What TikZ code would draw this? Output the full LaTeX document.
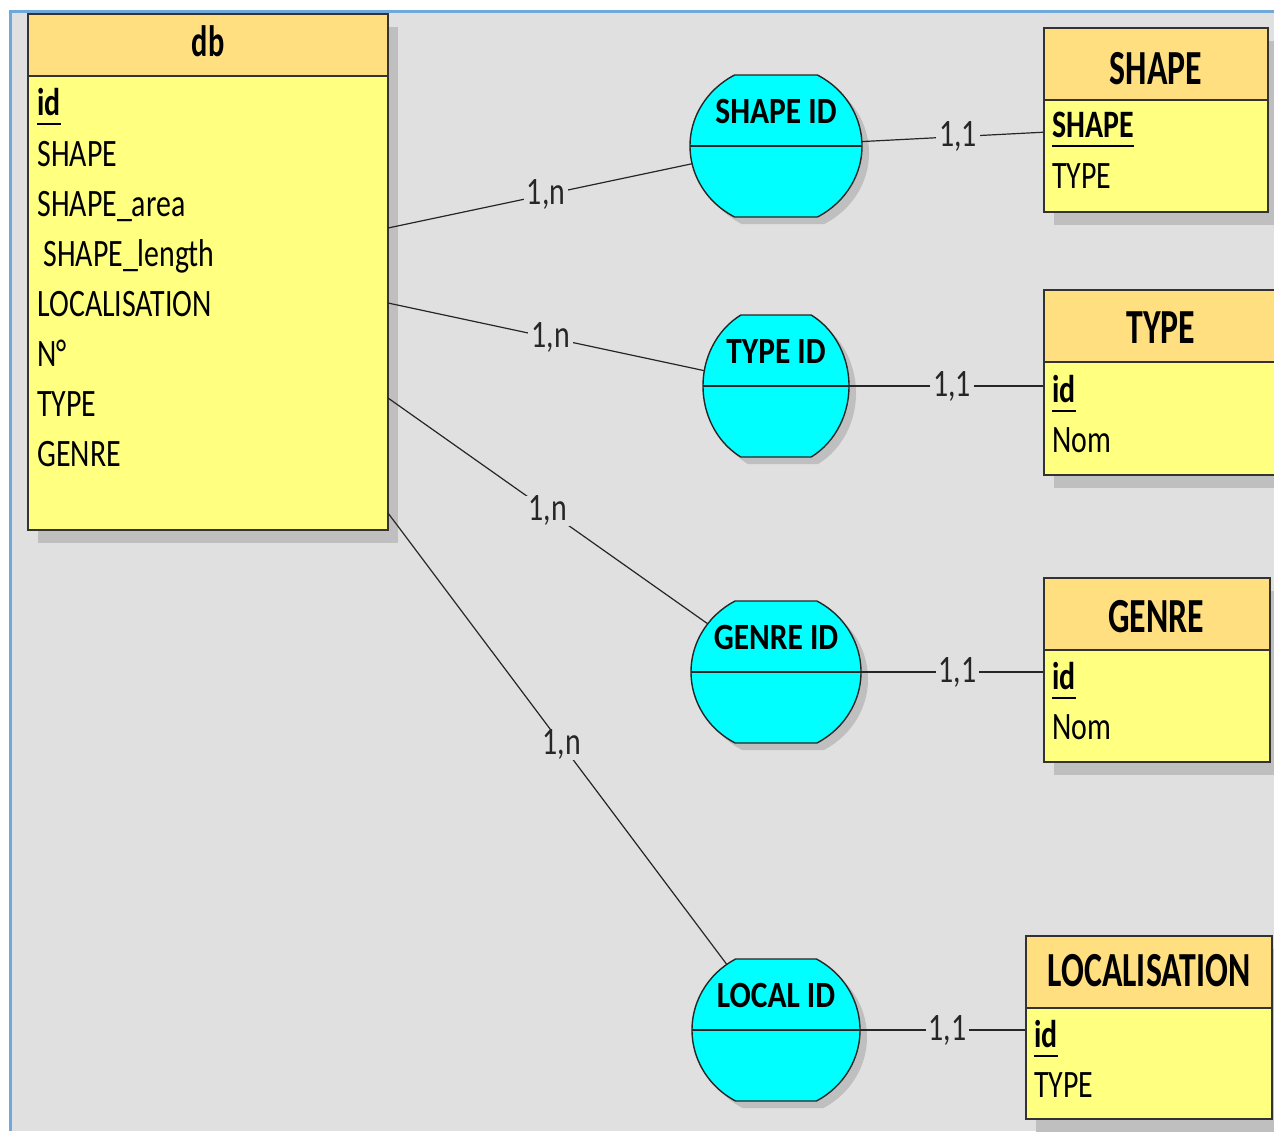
\documentclass[tikz,border=0pt]{standalone}
\usepackage{fontspec}
\setmainfont{Carlito}[FakeStretch=0.77]
\newfontfamily\hdfont{Carlito}[FakeStretch=0.69]
\newfontfamily\asfont{Carlito}[FakeStretch=0.85]
\usetikzlibrary{shapes.geometric, fit, calc}

\definecolor{canvas}{HTML}{E0E0E0}
\definecolor{frameblue}{HTML}{6FA8DC}
\definecolor{headorange}{HTML}{FFDF80}
\definecolor{bodyyellow}{HTML}{FFFF80}
\definecolor{assoccyan}{HTML}{00FFFF}
\definecolor{shadowgray}{HTML}{BFBFBF}

% underlined key attribute
\newcommand{\keyfield}[1]{\setbox0=\hbox{#1}\rlap{\rule[-5pt]{\wd0}{1pt}}\box0}

% entity: name, x1, y1, x2, y2, bottom of header
\newcommand{\entity}[6]{%
  \fill[shadowgray] (#2+10,#3+13) rectangle (#4+10,#5+13);
  \fill[bodyyellow] (#2,#6) rectangle (#4,#5);
  \fill[headorange] (#2,#3) rectangle (#4,#6);
  \draw[box] (#2,#6) -- (#4,#6);
  \node[box, fit={(#2,#3)(#4,#5)}, inner sep=0pt] (#1) {};
}

% association outline, flat at top and bottom
\newcommand{\assocshape}[1]{(61.24:#1 and 81) -- (118.76:#1 and 81)
  arc[start angle=118.76, end angle=241.24, x radius=#1, y radius=81]
  -- (298.76:#1 and 81)
  arc[start angle=298.76, end angle=421.24, x radius=#1, y radius=81] -- cycle}

% association: name, cx, cy, x radius, label
\newcommand{\assoc}[5]{%
  \fill[shadowgray, shift={(#2+7,#3+7)}] \assocshape{#4};
  \filldraw[assocline, fill=assoccyan, shift={(#2,#3)}] \assocshape{#4};
  \draw[assocline] (#2-#4,#3) -- (#2+#4,#3);
  \node[assocname] (#1-name) at (#2,#3-22.5) {#5};
  \node[ellipse, minimum width=#4pt, minimum height=81pt, inner sep=0pt, outer sep=0pt] (#1) at (#2,#3) {};
}

\begin{document}
\begin{tikzpicture}[
    x=0.5pt, y=-0.5pt,
    field/.style={anchor=base west, inner sep=0pt, font=\fontsize{19.4}{23}\selectfont},
    title/.style={anchor=base, inner sep=0pt, font=\hdfont\bfseries\fontsize{24.5}{29}\selectfont},
    assocname/.style={anchor=base, inner sep=0pt, font=\asfont\bfseries\fontsize{18.5}{22}\selectfont},
    card/.style={fill=canvas, inner xsep=1.5pt, inner ysep=0pt, text=black!85, font=\fontsize{19.4}{23}\selectfont},
    link/.style={draw=black!85, line width=0.6pt},
    box/.style={draw=black!80, line width=0.9pt},
    assocline/.style={draw=black!85, line width=0.7pt}
]
\useasboundingbox (0,0) rectangle (1274,1131);

% Canvas
\fill[white] (0,0) rectangle (1274,1131);
\fill[canvas] (11,12) rectangle (1274,1131);
\draw[frameblue, line width=1.5pt] (10.5,1131) -- (10.5,11.5) -- (1274,11.5);

% Main table
\entity{db}{28}{14}{388}{530}{76}
\node[title, font=\hdfont\bfseries\fontsize{22}{26}\selectfont] (db-title) at (208,56) {db};
\node[field] (db-id) at (37,115) {\keyfield{\bfseries id}};
\node[field] (db-shape) at (37,166) {SHAPE};
\node[field] (db-area) at (37,216) {SHAPE\_area};
\node[field] (db-length) at (43,266) {SHAPE\_length};
\node[field] (db-local) at (37,316) {LOCALISATION};
\node[field] (db-num) at (37,366) {N°};
\node[field] (db-type) at (37,416) {TYPE};
\node[field] (db-genre) at (37,466) {GENRE};

% Lookup tables
\entity{shape}{1044}{28}{1268}{212}{100}
\node[title] (shape-title) at (1156,84) {SHAPE};
\node[field] (shape-key) at (1052,137) {\keyfield{\bfseries SHAPE}};
\node[field] (shape-type) at (1052,188) {TYPE};

\entity{type}{1044}{290}{1284}{475}{362}
\node[title] (type-title) at (1161,343) {TYPE};
\node[field] (type-key) at (1052,402) {\keyfield{\bfseries id}};
\node[field] (type-nom) at (1052,452) {Nom};

\entity{genre}{1044}{578}{1270}{762}{650}
\node[title] (genre-title) at (1156,632) {GENRE};
\node[field] (genre-key) at (1052,689) {\keyfield{\bfseries id}};
\node[field] (genre-nom) at (1052,739) {Nom};

\entity{local}{1026}{936}{1272}{1119}{1008}
\node[title] (local-title) at (1149,986) {LOCALISATION};
\node[field] (local-key) at (1034,1047) {\keyfield{\bfseries id}};
\node[field] (local-type) at (1034,1097) {TYPE};

% Associations
\assoc{shapeid}{776}{146}{86}{SHAPE ID}
\assoc{typeid}{776}{386}{73}{TYPE ID}
\assoc{genreid}{776}{672}{85}{GENRE ID}
\assoc{localid}{776}{1030}{84}{LOCAL ID}

% Attach points on the main table
\coordinate (db-a) at (388,228);
\coordinate (db-b) at (388,303);
\coordinate (db-c) at (388,398);
\coordinate (db-d) at (388,513);

% Links - main table side
\draw[link] (db-a) -- node[card, pos=0.52] (card-a) {1,n} (shapeid);
\draw[link] (db-b) -- node[card, pos=0.514] (card-b) {1,n} (typeid);
\draw[link] (db-c) -- node[card, pos=0.50] (card-c) {1,n} (genreid);
\draw[link] (db-d) -- node[card, pos=0.513] (card-d) {1,n} (localid);

% Links - lookup side
\draw[link] (shapeid) -- node[card, pos=0.53] (card-e) {1,1} (shape.west |- shape-key.mid);
\draw[link] (typeid) -- node[card, pos=0.53] (card-f) {1,1} (type.west |- typeid);
\draw[link] (genreid) -- node[card, pos=0.53] (card-g) {1,1} (genre.west |- genreid);
\draw[link] (localid) -- node[card, pos=0.53] (card-h) {1,1} (local.west |- localid);

\end{tikzpicture}
\end{document}
